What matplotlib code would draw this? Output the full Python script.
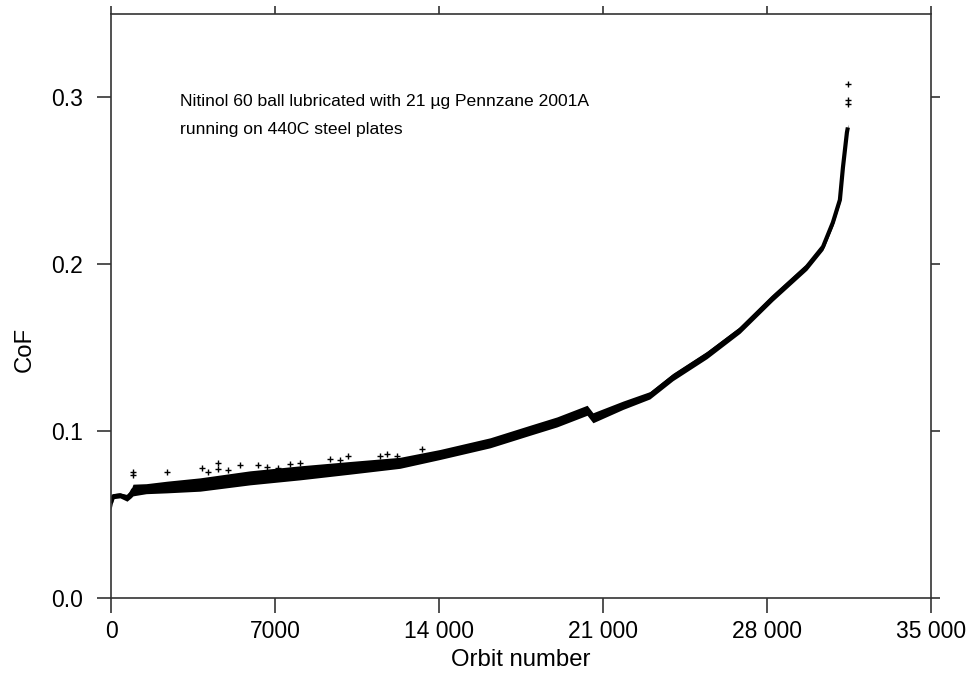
import matplotlib
matplotlib.use("Agg")
import matplotlib.pyplot as plt
import numpy as np

plt.rcParams['font.family'] = ['Liberation Sans', 'DejaVu Sans']

# Friction trace: band centre and half-thickness, read along the run
orbit = [0, 100, 384, 683, 854, 939, 1500, 2390, 3800, 5930, 8070, 10200,
         12330, 14040, 16180, 17880, 19030, 20320, 20570, 21850, 23000,
         23990, 25440, 26850, 28250, 29700, 30390, 30810, 31110, 31240,
         31410, 31450]
cof = [0.057, 0.0610, 0.0615, 0.0600, 0.0625, 0.0647, 0.0655, 0.0665,
       0.0680, 0.0720, 0.0750, 0.0780, 0.0810, 0.0860, 0.0930, 0.1005,
       0.1055, 0.1125, 0.1080, 0.1155, 0.1215, 0.1325, 0.1457, 0.1607,
       0.1800, 0.1985, 0.2105, 0.2250, 0.2386, 0.2580, 0.2790, 0.2820]
half_width = [0.004, 0.0015, 0.0015, 0.002, 0.0025, 0.0035, 0.003, 0.0035,
              0.004, 0.0042, 0.0042, 0.0038, 0.0033, 0.003, 0.003, 0.003,
              0.003, 0.003, 0.003, 0.0025, 0.0022, 0.0022, 0.0022, 0.002,
              0.002, 0.002, 0.002, 0.002, 0.002, 0.002, 0.002, 0.002]

# Isolated readings sitting above the main band
spike_orbit = [939, 939, 2390, 3880, 4140, 4570, 4570, 5000, 5510, 6280,
               6660, 7130, 7640, 8070, 9350, 9770, 10120, 11480, 11780,
               12200, 13270, 31450, 31450, 31450]
spike_cof = [0.0755, 0.0735, 0.0755, 0.0780, 0.0755, 0.0810, 0.0775,
             0.0767, 0.0797, 0.0797, 0.0785, 0.0780, 0.0800, 0.0810,
             0.0833, 0.0827, 0.0850, 0.0850, 0.0863, 0.0850, 0.0893,
             0.2960, 0.2985, 0.3080]

x_ticks = [0, 7000, 14000, 21000, 28000, 35000]
x_tick_labels = ['0', '7000', '14 000', '21 000', '28 000', '35 000']
y_ticks = [0.0, 0.1, 0.2, 0.3]
y_tick_labels = ['0.0', '0.1', '0.2', '0.3']

fig = plt.figure(figsize=(9.67, 6.74), dpi=100)
ax = fig.add_axes([0.1148, 0.1128, 0.848, 0.8664])

o = np.array(orbit)
c = np.array(cof)
hw = np.array(half_width)
ax.fill_between(o, c - hw, c + hw, color='black', linewidth=0)
ax.plot(o, c, color='black', linewidth=3.0, solid_capstyle='butt')
ax.plot(spike_orbit, spike_cof, linestyle='none', marker='+',
        markersize=4, color='black', markeredgewidth=1.0)

ax.set_xlim(0, 35000)
ax.set_ylim(0, 0.35)
ax.set_xticks(x_ticks)
ax.set_xticklabels(x_tick_labels)
ax.set_yticks(y_ticks)
ax.set_yticklabels(y_tick_labels)

for side in ['left', 'right', 'top', 'bottom']:
    ax.spines[side].set_color('#333333')
    ax.spines[side].set_linewidth(1.2)

ax.tick_params(axis='both', which='major', colors='#333333',
               labelcolor='black', labelsize=16.5, width=1.2)
ax.tick_params(axis='x', top=True, direction='out', length=11, pad=5)
ax.tick_params(axis='y', right=True, direction='out', length=10, pad=10)
for t in ax.xaxis.get_major_ticks():
    t.tick2line.set_markersize(6)
for t in ax.yaxis.get_major_ticks():
    t.tick2line.set_markersize(6.5)

ax.set_xlabel('Orbit number', fontsize=17.2, labelpad=4)
ax.set_ylabel('CoF', fontsize=17.2)
ax.yaxis.set_label_coords(-0.092, 0.425)

ax.text(0.0841, 0.8425,
        'Nitinol 60 ball lubricated with 21 \u00b5g Pennzane 2001A',
        transform=ax.transAxes, ha='left', va='baseline', fontsize=12.6)
ax.text(0.0841, 0.7945, 'running on 440C steel plates',
        transform=ax.transAxes, ha='left', va='baseline', fontsize=12.6)

fig.savefig('out.png', dpi=100)
